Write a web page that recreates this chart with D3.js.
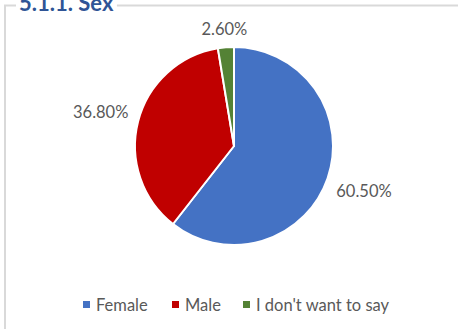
<!DOCTYPE html>
<html>
<head>
<meta charset="utf-8">
<script src="https://cdn.jsdelivr.net/npm/d3@7"></script>
<style>
  html, body { margin: 0; padding: 0; background: #fff; }
  svg { display: block; }
</style>
</head>
<body>
<svg id="chart" width="458" height="329"></svg>
<script>
// Respondents by sex
const categories = ["Female", "Male", "I don't want to say"];
const shares = [60.5, 36.8, 2.6];
const colors = ["#4472C4", "#C00000", "#548235"];
const title = "5.1.1. Sex";

const svg = d3.select("#chart");
const W = 458, H = 329;
const font = "Lato, 'Open Sans', sans-serif";
const textColor = "#595959";

// frame: top and left edges
svg.append("path")
  .attr("d", `M5,${H} L5,5.5 L${W},5.5`)
  .attr("fill", "none")
  .attr("stroke", "#d9d9d9")
  .attr("stroke-width", 2);

// title with a white backing so it sits over the frame line
const titleText = svg.append("text")
  .attr("x", 19).attr("y", 11)
  .attr("font-family", font)
  .attr("font-weight", "bold")
  .attr("font-size", 22)
  .attr("fill", "#2F5496")
  .text(title);
const bb = titleText.node().getBBox();
svg.insert("rect", "text")
  .attr("x", bb.x - 3).attr("y", 0)
  .attr("width", bb.width + 6).attr("height", 12)
  .attr("fill", "#fff");

// pie
const cx = 234, cy = 146, r = 99;
const data = categories.map((c, i) => ({ cat: c, value: shares[i], color: colors[i] }));
const pie = d3.pie().value(d => d.value).sort(null);
const arc = d3.arc().innerRadius(0).outerRadius(r);
const arcs = pie(data);

const g = svg.append("g").attr("transform", `translate(${cx},${cy})`);
g.selectAll("path")
  .data(arcs)
  .join("path")
  .attr("d", arc)
  .attr("fill", d => d.data.color)
  .attr("stroke", "#fff")
  .attr("stroke-width", 2)
  .attr("stroke-linejoin", "round");

// value labels outside the slices: the label box keeps a fixed gap from the rim
const gap = 10;
const fmt = v => v.toFixed(2) + "%";
g.selectAll("text.val")
  .data(arcs)
  .join("text")
  .attr("class", "val")
  .attr("text-anchor", "middle")
  .attr("dominant-baseline", "central")
  .attr("font-family", font)
  .attr("font-size", 16.5)
  .attr("fill", textColor)
  .text(d => fmt(d.data.value))
  .attr("transform", function(d) {
    const a = (d.startAngle + d.endAngle) / 2;
    const ux = Math.sin(a), uy = -Math.cos(a);
    const b = this.getBBox();
    const ext = Math.abs(ux) * b.width / 2 + Math.abs(uy) * 7;
    const dist = r + gap + ext;
    return `translate(${ux * dist},${uy * dist})`;
  });

// legend
const legendX = [83, 172, 243];
const legendY = 304.5;
const lg = svg.append("g");
data.forEach((d, i) => {
  lg.append("rect")
    .attr("x", legendX[i]).attr("y", legendY - 3.5)
    .attr("width", 7).attr("height", 7)
    .attr("fill", d.color);
  lg.append("text")
    .attr("x", legendX[i] + 13).attr("y", legendY)
    .attr("dominant-baseline", "central")
    .attr("font-family", font)
    .attr("font-size", 16.5)
    .attr("fill", textColor)
    .text(d.cat);
});
</script>
</body>
</html>
